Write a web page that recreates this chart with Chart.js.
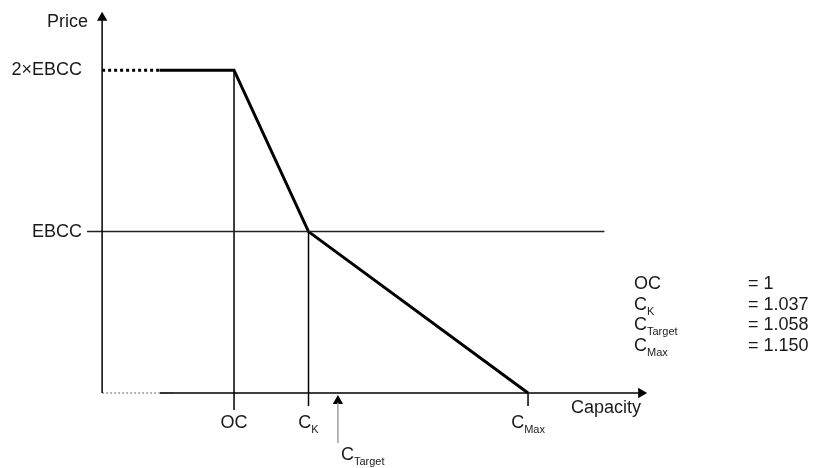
<!DOCTYPE html>
<html>
<head>
<meta charset="utf-8">
<script src="https://cdn.jsdelivr.net/npm/chart.js@4/dist/chart.umd.min.js"></script>
<style>
  html, body { margin: 0; padding: 0; background: #fff; }
  #wrap { width: 814px; height: 468px; }
</style>
</head>
<body>
<div id="wrap"><canvas id="chart" width="814" height="468"></canvas></div>
<script>
// =====================
// DATA
// =====================
const priceLabels = ["EBCC", "2\u00d7EBCC"];
const priceLevels = [1, 2];

// price curve (capacity, price)
const curveX = [1, 1.038, 1.15];
const curveY = [2, 1, 0];
const dottedEndX = 0.962;   // dotted part of the 2xEBCC cap

// marks on the capacity axis: [main, subscript]
const markNames = [["OC", ""], ["C", "K"], ["C", "Target"], ["C", "Max"]];
const markPos = [1, 1.038, 1.053, 1.15];       // where they sit in the drawing
const markValues = ["= 1", "= 1.037", "= 1.058", "= 1.150"];

const ebccLineEnd = 1.189;

// axes of the drawing (origin and arrow ends)
const axisX0 = 0.9327, axisXEnd = 1.2107;
const axisYEnd = 2.36;

// whole canvas in data units
const xMin = 0.8806, xMax = 1.2959;
const yMin = -0.4647, yMax = 2.435;

const FONT = "'Liberation Sans', Arial, sans-serif";
const INK = "#1a1a1a";

function seg(x1, y1, x2, y2) {
  return [{ x: x1, y: y1 }, { x: x2, y: y2 }];
}

function line(data, width, color, dash) {
  return {
    data: data,
    showLine: true,
    borderColor: color || "#000",
    borderWidth: width,
    borderDash: dash || [],
    pointRadius: 0,
    tension: 0
  };
}

function arrowHead(pt, rot) {
  return {
    data: [pt],
    showLine: false,
    pointStyle: "triangle",
    rotation: rot,
    pointRadius: 6,
    pointBackgroundColor: "#000",
    pointBorderColor: "#000",
    pointBorderWidth: 0
  };
}

const datasets = [];

// axes
datasets.push(line(seg(axisX0, 0, axisX0, axisYEnd - 0.04), 1.5, "#000"));
datasets.push(line(seg(0.9622, 0, axisXEnd - 0.004, 0), 1.5, "#000"));
datasets.push(line(seg(axisX0, 0, 0.9622, 0), 1.5, "#9a9a9a", [2, 2]));
datasets.push(line(seg(0.9622, 0, 0.9695, 0), 1.5, "#c8c8c8"));

// EBCC level line + tick, dotted cap at 2xEBCC
datasets.push(line(seg(0.925, priceLevels[0], ebccLineEnd, priceLevels[0]), 1.5, "#222"));
datasets.push(line(seg(axisX0, priceLevels[1], dottedEndX, priceLevels[1]), 3, "#000", [3, 3]));

// vertical guides at OC and C_K, tick at C_Max
datasets.push(line(seg(markPos[0], -0.105, markPos[0], priceLevels[1]), 1.5, "#000"));
datasets.push(line(seg(markPos[1], -0.08, markPos[1], priceLevels[0]), 1.5, "#000"));
datasets.push(line(seg(markPos[3], -0.08, markPos[3], 0), 1.5, "#000"));

// price curve
datasets.push(line([{ x: dottedEndX, y: 2 }].concat(curveX.map((x, i) => ({ x: x, y: curveY[i] }))), 3, "#000"));

// C_Target arrow shaft
datasets.push(line(seg(markPos[2], -0.06, markPos[2], -0.31), 1.5, "#a0a0a0"));

// arrow heads
datasets.push(arrowHead({ x: axisX0, y: axisYEnd - 0.035 }, 0));
datasets.push(arrowHead({ x: axisXEnd - 0.003, y: 0 }, 90));
datasets.push(arrowHead({ x: markPos[2], y: -0.05 }, 0));

// =====================
// TEXT
// =====================
function subText(ctx, main, sub, x, y, align) {
  ctx.font = "18px " + FONT;
  const w1 = ctx.measureText(main).width;
  ctx.font = "11px " + FONT;
  const w2 = sub ? ctx.measureText(sub).width : 0;
  let left = x;
  if (align === "center") left = x - (w1 + w2) / 2;
  ctx.textAlign = "left";
  ctx.textBaseline = "middle";
  ctx.font = "18px " + FONT;
  ctx.fillText(main, left, y);
  if (sub) {
    ctx.font = "11px " + FONT;
    ctx.fillText(sub, left + w1, y + 7);
  }
}

const labelPlugin = {
  id: "labels",
  afterDatasetsDraw(chart) {
    const ctx = chart.ctx;
    const xs = chart.scales.x, ys = chart.scales.y;
    ctx.save();
    ctx.fillStyle = INK;
    ctx.font = "18px " + FONT;
    ctx.textBaseline = "middle";

    ctx.textAlign = "right";
    ctx.fillText("Price", 88, 22);
    priceLabels.forEach((t, i) => {
      ctx.textAlign = "right";
      ctx.font = "18px " + FONT;
      ctx.fillText(t, 82, ys.getPixelForValue(priceLevels[i]));
    });

    ctx.textAlign = "left";
    ctx.fillText("Capacity", 571, 408);

    // under-axis labels
    [0, 1, 3].forEach(i => {
      subText(ctx, markNames[i][0], markNames[i][1], xs.getPixelForValue(markPos[i]), 423, "center");
    });
    subText(ctx, markNames[2][0], markNames[2][1], xs.getPixelForValue(markPos[2]) + 3, 455, "left");

    // value list
    const rows = [284, 305, 325, 346];
    markNames.forEach((m, i) => {
      subText(ctx, m[0], m[1], 634, rows[i], "left");
      ctx.font = "18px " + FONT;
      ctx.textAlign = "left";
      ctx.fillText(markValues[i], 748, rows[i]);
    });
    ctx.restore();
  }
};

new Chart(document.getElementById("chart"), {
  type: "scatter",
  data: { datasets: datasets },
  options: {
    responsive: false,
    animation: false,
    layout: { padding: 0, autoPadding: false },
    plugins: { legend: { display: false }, tooltip: { enabled: false } },
    scales: {
      x: { type: "linear", min: xMin, max: xMax, display: false },
      y: { type: "linear", min: yMin, max: yMax, display: false }
    }
  },
  plugins: [labelPlugin]
});
</script>
</body>
</html>
